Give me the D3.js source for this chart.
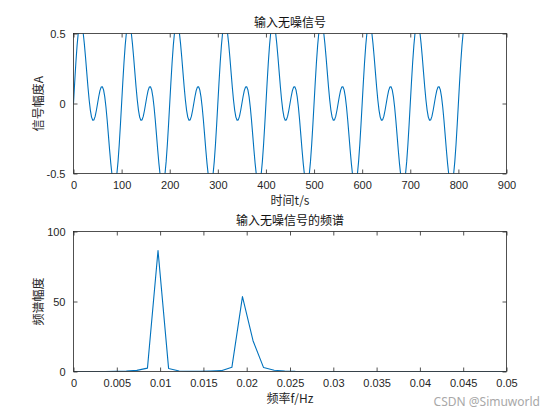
<!DOCTYPE html>
<html>
<head>
<meta charset="utf-8">
<script src="https://cdn.jsdelivr.net/npm/d3@7/dist/d3.min.js"></script>
<style>
  html, body { margin: 0; padding: 0; background: #ffffff; }
  svg { display: block; }
</style>
</head>
<body>
<svg id="chart" width="560" height="420"></svg>
<script>
// ---------------- data ----------------
const signalStep = 2.5; // seconds between samples
const signalValues = [
  0, 0.154, 0.296, 0.417, 0.508, 0.563, 0.581, 0.561, 0.508, 0.428, 0.330, 0.224, 0.120, 0.027, -0.047, -0.097, -0.120, -0.117, -0.092, -0.050,
  0, 0.050, 0.092, 0.117, 0.120, 0.097, 0.047, -0.027, -0.120, -0.224, -0.330, -0.428, -0.508, -0.561, -0.581, -0.563, -0.508, -0.417, -0.296, -0.154,
  0, 0.154, 0.296, 0.417, 0.508, 0.563, 0.581, 0.561, 0.508, 0.428, 0.330, 0.224, 0.120, 0.027, -0.047, -0.097, -0.120, -0.117, -0.092, -0.050,
  0, 0.050, 0.092, 0.117, 0.120, 0.097, 0.047, -0.027, -0.120, -0.224, -0.330, -0.428, -0.508, -0.561, -0.581, -0.563, -0.508, -0.417, -0.296, -0.154,
  0, 0.154, 0.296, 0.417, 0.508, 0.563, 0.581, 0.561, 0.508, 0.428, 0.330, 0.224, 0.120, 0.027, -0.047, -0.097, -0.120, -0.117, -0.092, -0.050,
  0, 0.050, 0.092, 0.117, 0.120, 0.097, 0.047, -0.027, -0.120, -0.224, -0.330, -0.428, -0.508, -0.561, -0.581, -0.563, -0.508, -0.417, -0.296, -0.154,
  0, 0.154, 0.296, 0.417, 0.508, 0.563, 0.581, 0.561, 0.508, 0.428, 0.330, 0.224, 0.120, 0.027, -0.047, -0.097, -0.120, -0.117, -0.092, -0.050,
  0, 0.050, 0.092, 0.117, 0.120, 0.097, 0.047, -0.027, -0.120, -0.224, -0.330, -0.428, -0.508, -0.561, -0.581, -0.563, -0.508, -0.417, -0.296, -0.154,
  0, 0.154, 0.296, 0.417, 0.508, 0.563, 0.581, 0.561, 0.508, 0.428, 0.330, 0.224, 0.120, 0.027, -0.047, -0.097, -0.120, -0.117, -0.092, -0.050,
  0, 0.050, 0.092, 0.117, 0.120, 0.097, 0.047, -0.027, -0.120, -0.224, -0.330, -0.428, -0.508, -0.561, -0.581, -0.563, -0.508, -0.417, -0.296, -0.154,
  0, 0.154, 0.296, 0.417, 0.508, 0.563, 0.581, 0.561, 0.508, 0.428, 0.330, 0.224, 0.120, 0.027, -0.047, -0.097, -0.120, -0.117, -0.092, -0.050,
  0, 0.050, 0.092, 0.117, 0.120, 0.097, 0.047, -0.027, -0.120, -0.224, -0.330, -0.428, -0.508, -0.561, -0.581, -0.563, -0.508, -0.417, -0.296, -0.154,
  0, 0.154, 0.296, 0.417, 0.508, 0.563, 0.581, 0.561, 0.508, 0.428, 0.330, 0.224, 0.120, 0.027, -0.047, -0.097, -0.120, -0.117, -0.092, -0.050,
  0, 0.050, 0.092, 0.117, 0.120, 0.097, 0.047, -0.027, -0.120, -0.224, -0.330, -0.428, -0.508, -0.561, -0.581, -0.563, -0.508, -0.417, -0.296, -0.154,
  0, 0.154, 0.296, 0.417, 0.508, 0.563, 0.581, 0.561, 0.508, 0.428, 0.330, 0.224, 0.120, 0.027, -0.047, -0.097, -0.120, -0.117, -0.092, -0.050,
  0, 0.050, 0.092, 0.117, 0.120, 0.097, 0.047, -0.027, -0.120, -0.224, -0.330, -0.428, -0.508, -0.561, -0.581, -0.563, -0.508, -0.417, -0.296, -0.154,
  0, 0.154, 0.296, 0.417, 0.508, 0.563, 0.581
];

const spectrumFreqs = [
  0, 0.00122, 0.00244, 0.00366, 0.00488, 0.0061, 0.00732, 0.00854, 0.00976, 0.01098,
  0.0122, 0.01341, 0.01463, 0.01585, 0.01707, 0.01829, 0.01951, 0.02073, 0.02195, 0.02317,
  0.02439, 0.02561, 0.02683, 0.02805, 0.02927, 0.03049, 0.03171, 0.03293, 0.03415, 0.03537,
  0.03659, 0.0378, 0.03902, 0.04024, 0.04146, 0.04268, 0.0439, 0.04512, 0.04634, 0.04756,
  0.04878, 0.05
];
const spectrumValues = [
  0, 0, 0, 0, 0.1, 0.3, 0.8, 2.4, 86.4, 2.2,
  0.4, 0.1, 0.1, 0.3, 0.6, 3.0, 53.5, 22.0, 2.8, 0.9,
  0.4, 0.1, 0, 0, 0, 0, 0, 0, 0, 0,
  0, 0, 0, 0, 0, 0, 0, 0, 0, 0,
  0, 0
];

const topXTicks = [0, 100, 200, 300, 400, 500, 600, 700, 800, 900];
const topXTickLabels = ["0", "100", "200", "300", "400", "500", "600", "700", "800", "900"];
const topYTicks = [-0.5, 0, 0.5];
const topYTickLabels = ["-0.5", "0", "0.5"];
const botXTicks = [0, 0.005, 0.01, 0.015, 0.02, 0.025, 0.03, 0.035, 0.04, 0.045, 0.05];
const botXTickLabels = ["0", "0.005", "0.01", "0.015", "0.02", "0.025", "0.03", "0.035", "0.04", "0.045", "0.05"];
const botYTicks = [0, 50, 100];
const botYTickLabels = ["0", "50", "100"];

const titles = ["输入无噪信号", "输入无噪信号的频谱"];
const xLabels = ["时间t/s", "频率f/Hz"];
const yLabels = ["信号幅度A", "频谱幅度"];
const watermark = "CSDN @Simuworld";

// ---------------- drawing ----------------
const svg = d3.select("#chart");
const lineColor = "#0072BD";
const axisColor = "#262626";
const numFont = "'Liberation Sans', Arial, sans-serif";
const cjkFont = "'Noto Sans CJK SC', 'Liberation Sans', sans-serif";

function drawPanel(cfg) {
  const { left, right, top, bottom, xDomain, yDomain, xTicks, xTickLabels,
          yTicks, yTickLabels, data, title, xLabel, yLabel, id } = cfg;
  const x = d3.scaleLinear().domain(xDomain).range([left, right]);
  const y = d3.scaleLinear().domain(yDomain).range([bottom, top]);
  const g = svg.append("g");

  g.append("clipPath").attr("id", id)
    .append("rect").attr("x", left).attr("y", top)
    .attr("width", right - left).attr("height", bottom - top);

  const line = d3.line().x(d => x(d[0])).y(d => y(d[1]));
  g.append("path")
    .datum(data)
    .attr("clip-path", `url(#${id})`)
    .attr("fill", "none")
    .attr("stroke", lineColor)
    .attr("stroke-width", 1.1)
    .attr("stroke-linejoin", "round")
    .attr("d", line);

  const tickLen = 4;
  const axB = d3.axisBottom(x).tickValues(xTicks).tickSizeInner(-tickLen).tickSizeOuter(0)
    .tickFormat((d, i) => xTickLabels[i]).tickPadding(8);
  const gB = g.append("g").attr("transform", `translate(0,${bottom})`).call(axB);
  const axT = d3.axisTop(x).tickValues(xTicks).tickSizeInner(-tickLen).tickSizeOuter(0).tickFormat("");
  const gT = g.append("g").attr("transform", `translate(0,${top})`).call(axT);
  const axL = d3.axisLeft(y).tickValues(yTicks).tickSizeInner(-tickLen).tickSizeOuter(0)
    .tickFormat((d, i) => yTickLabels[i]).tickPadding(8);
  const gL = g.append("g").attr("transform", `translate(${left},0)`).call(axL);
  const axR = d3.axisRight(y).tickValues(yTicks).tickSizeInner(-tickLen).tickSizeOuter(0).tickFormat("");
  const gR = g.append("g").attr("transform", `translate(${right},0)`).call(axR);

  [gB, gT, gL, gR].forEach(a => {
    a.select(".domain").remove();
    a.selectAll("line").attr("stroke", axisColor).attr("stroke-width", 0.8);
    a.selectAll("text").attr("fill", axisColor)
      .style("font-family", numFont).style("font-size", "11px");
  });

  g.append("rect").attr("x", left).attr("y", top)
    .attr("width", right - left).attr("height", bottom - top)
    .attr("fill", "none").attr("stroke", axisColor).attr("stroke-width", 0.8);

  g.append("text").attr("x", (left + right) / 2).attr("y", top - 7)
    .attr("text-anchor", "middle").attr("fill", "#111")
    .style("font-family", cjkFont).style("font-size", "12px")
    .text(title);
  g.append("text").attr("x", (left + right) / 2).attr("y", bottom + 31)
    .attr("text-anchor", "middle").attr("fill", axisColor)
    .style("font-family", cjkFont).style("font-size", "12px")
    .text(xLabel);
  g.append("text")
    .attr("transform", `translate(${left - 31},${(top + bottom) / 2}) rotate(-90)`)
    .attr("text-anchor", "middle").attr("fill", axisColor)
    .style("font-family", cjkFont).style("font-size", "12px")
    .text(yLabel);
}

drawPanel({
  id: "clipTop", left: 73.5, right: 506.5, top: 33.5, bottom: 173.5,
  xDomain: [0, 900], yDomain: [-0.5, 0.5],
  xTicks: topXTicks, xTickLabels: topXTickLabels,
  yTicks: topYTicks, yTickLabels: topYTickLabels,
  data: signalValues.map((v, i) => [i * signalStep, v]),
  title: titles[0], xLabel: xLabels[0], yLabel: yLabels[0]
});

drawPanel({
  id: "clipBot", left: 73.5, right: 506.5, top: 231.5, bottom: 371.5,
  xDomain: [0, 0.05], yDomain: [0, 100],
  xTicks: botXTicks, xTickLabels: botXTickLabels,
  yTicks: botYTicks, yTickLabels: botYTickLabels,
  data: spectrumFreqs.map((f, i) => [f, spectrumValues[i]]),
  title: titles[1], xLabel: xLabels[1], yLabel: yLabels[1]
});

svg.append("text").attr("x", 540).attr("y", 406)
  .attr("text-anchor", "end").attr("fill", "#a8a8a8")
  .style("font-family", "'Noto Sans', 'Liberation Sans', sans-serif").style("font-size", "12px")
  .text(watermark);
</script>
</body>
</html>
